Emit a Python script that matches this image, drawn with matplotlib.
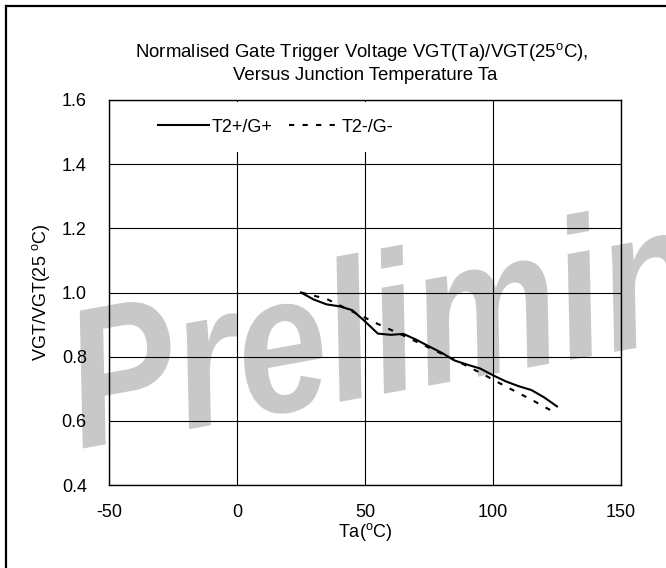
import matplotlib
matplotlib.use("Agg")
import matplotlib.pyplot as plt
from matplotlib.lines import Line2D
from matplotlib.textpath import TextPath
from matplotlib.patches import PathPatch
from matplotlib.font_manager import FontProperties
from matplotlib.transforms import Affine2D

plt.rcParams['font.family'] = ['Liberation Sans', 'DejaVu Sans']
plt.rcParams['mathtext.fontset'] = 'custom'
plt.rcParams['mathtext.rm'] = 'Liberation Sans'
plt.rcParams['mathtext.it'] = 'Liberation Sans:italic'
plt.rcParams['axes.unicode_minus'] = False

# Data
temp_pos = [25, 30, 35, 40, 45, 50, 55, 60, 65, 70, 75, 80, 85, 90, 95, 100, 105, 110, 115, 120, 125]
vgt_pos = [1.000, 0.978, 0.963, 0.957, 0.945, 0.910, 0.872, 0.868, 0.871, 0.853, 0.832,
           0.812, 0.788, 0.775, 0.763, 0.742, 0.723, 0.708, 0.696, 0.673, 0.645]
temp_neg = [25, 35, 45, 55, 65, 75, 85, 95, 105, 115, 125]
vgt_neg = [1.000, 0.980, 0.941, 0.902, 0.866, 0.828, 0.790, 0.750, 0.707, 0.666, 0.622]
series_labels = ["T2+/G+", "T2-/G-"]
x_ticks = [-50, 0, 50, 100, 150]
y_ticks = [0.4, 0.6, 0.8, 1.0, 1.2, 1.4, 1.6]

FS = 13
W, H = 666, 568
fig = plt.figure(figsize=(W / 100, H / 100), dpi=100)
ax = fig.add_axes([109 / W, 1 - 485 / H, 512 / W, 385 / H])
ax.patch.set_alpha(0)

# Watermark (behind everything)
tp = TextPath((0, 0), "Preliminary",
              prop=FontProperties(family='Liberation Sans', weight='bold', style='italic'), size=1)
tr = Affine2D().scale(162, 198).rotate_deg(10.3).translate(80, H - 449)
wm = PathPatch(tp, transform=tr, facecolor='#c8c8c8', edgecolor='none', zorder=-10)
fig.add_artist(wm)

ax.plot(temp_pos, vgt_pos, color='black', lw=1.5, label=series_labels[0], zorder=3)
ax.plot(temp_neg, vgt_neg, color='black', lw=1.5, dashes=(2.5, 4), label=series_labels[1], zorder=3)

ax.set_xlim(-50, 150)
ax.set_ylim(0.4, 1.6)
ax.set_xticks(x_ticks)
ax.set_yticks(y_ticks)
ax.set_yticklabels([f"{v:.1f}" for v in y_ticks])
ax.tick_params(length=0, labelsize=FS, pad=14)
ax.tick_params(axis='y', pad=16)
ax.grid(True, color='black', lw=0.8)
for s in ax.spines.values():
    s.set_linewidth(1.0)
    s.set_color('black')

ax.set_xlabel("Ta($\\mathrm{^{o}}$C)", fontsize=FS, labelpad=0)
ax.set_ylabel("VGT/VGT(25 $\\mathrm{^{o}}$C)", fontsize=FS, labelpad=7)
fig.text(362 / W, 1 - 52 / H, "Normalised Gate Trigger Voltage VGT(Ta)/VGT(25$\\mathrm{^{o}}$C),",
         ha='center', va='center', fontsize=13.4)
fig.text(365 / W, 1 - 75 / H, "Versus Junction Temperature Ta",
         ha='center', va='center', fontsize=13.4)

leg = ax.legend(loc='center', bbox_to_anchor=((276 - 109) / 512, (485 - 127) / 385), ncol=2,
                handlelength=2.8, handletextpad=0.15, columnspacing=0.9, borderpad=0.9,
                fontsize=FS, frameon=True, fancybox=False, facecolor='white',
                edgecolor='none', framealpha=1)

# Figure border (left and top)
fig.add_artist(Line2D([6 / W, 6 / W], [0, 1 - 6 / H], color='black', lw=1.6, transform=fig.transFigure))
fig.add_artist(Line2D([6 / W, 1], [1 - 6 / H, 1 - 6 / H], color='black', lw=1.6, transform=fig.transFigure))

fig.savefig("out.png", dpi=100)
